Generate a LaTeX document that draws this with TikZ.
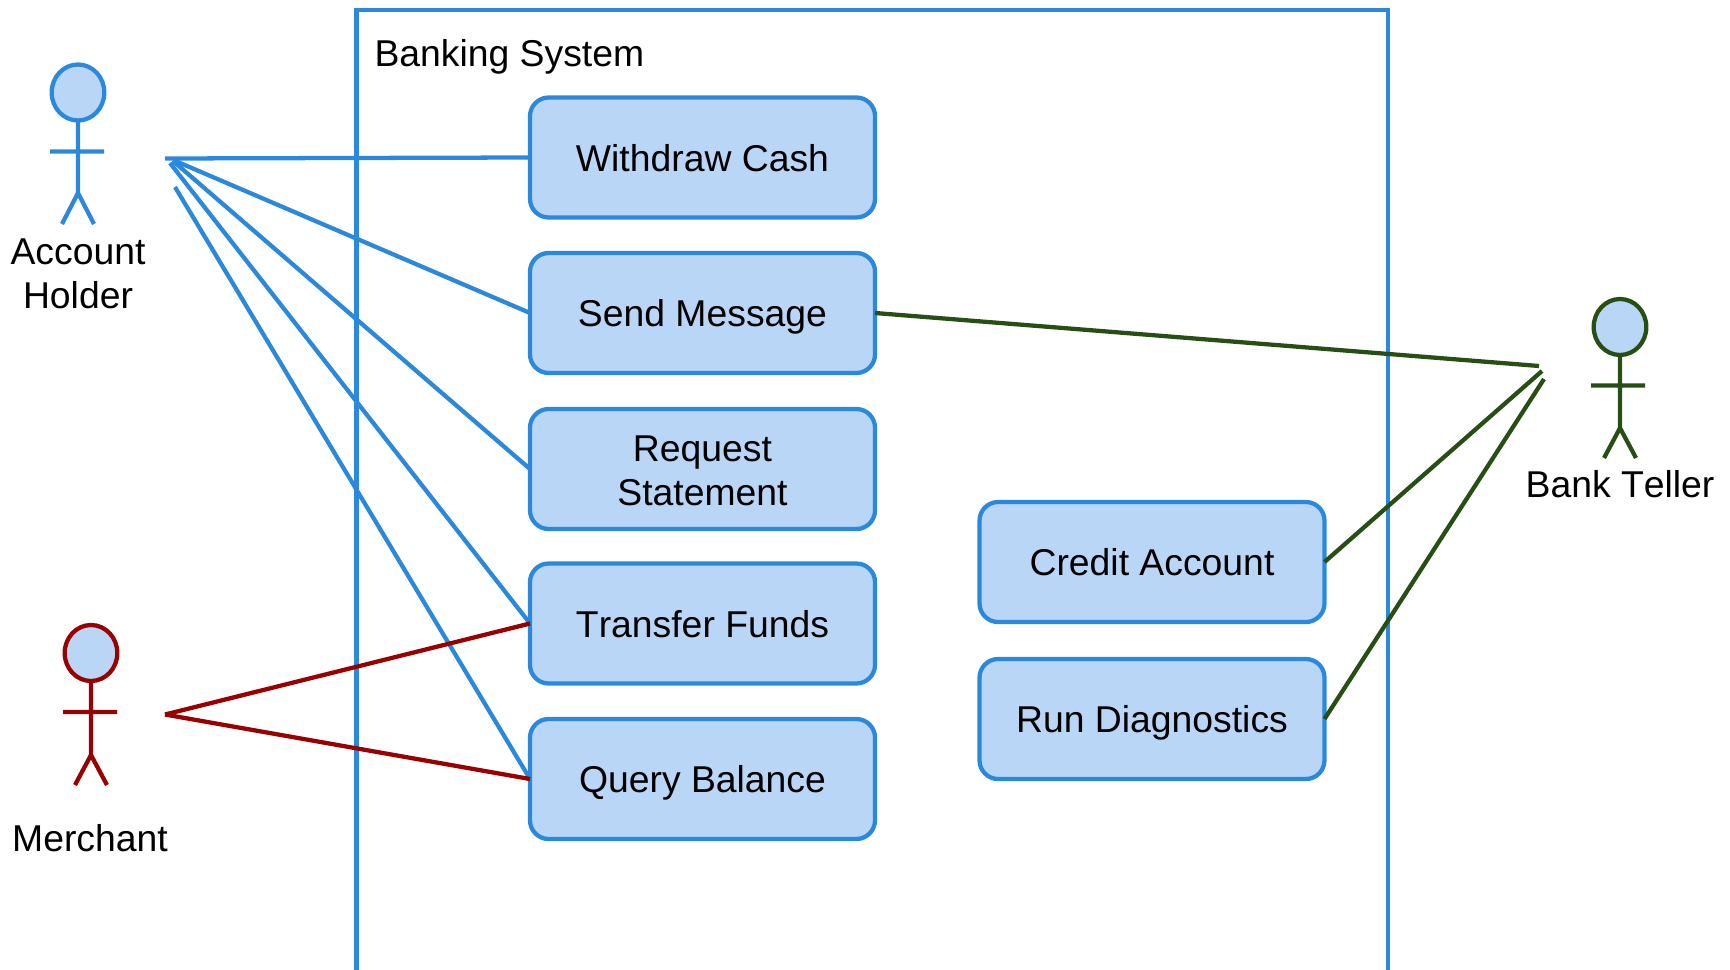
\documentclass[tikz,border=0pt]{standalone}
\usepackage{fontspec}
\setmainfont[Kerning=Off]{Liberation Sans}
\usetikzlibrary{shapes.geometric}
\definecolor{ubl}{HTML}{2A88DD}
\definecolor{ufill}{HTML}{BAD6F6}
\definecolor{ugr}{HTML}{274E13}
\definecolor{urd}{HTML}{990000}
\tikzset{
  usecase/.style={draw=ubl,fill=ufill,line width=3.2pt,rounded corners=14pt,minimum width=258.75pt,minimum height=90pt,inner sep=0pt,outer sep=0pt,align=center,text=black,font=\fontsize{28}{33}\selectfont},
  oneline/.style={text height=20.6pt,text depth=0pt},
  head/.style={ellipse,line width=3.2pt,fill=ufill,minimum width=39.5pt,minimum height=42pt,inner sep=0pt,outer sep=0pt},
  limb/.style={line width=3.2pt,line join=miter},
  lbl/.style={inner sep=0pt,outer sep=0pt,align=center,text=black,font=\fontsize{28}{33}\selectfont},
  conn/.style={line width=3.2pt}
}
\begin{document}
\begin{tikzpicture}[x=0.75pt,y=-0.75pt]
\useasboundingbox (0,0) rectangle (1730,970);
% system boundary
\coordinate (sysBL) at (356.5,970);
\coordinate (sysTL) at (356.5,10);
\coordinate (sysTR) at (1388,10);
\coordinate (sysBR) at (1388,970);
\draw[ubl,line width=3.2pt,line join=miter] (sysBL) -- (sysTL) -- (sysTR) -- (sysBR);
\node[lbl,anchor=base west] (systitle) at (374.5,67) {Banking System};
% use cases
\node[usecase,oneline] (withdraw) at (702.5,157.5) {Withdraw Cash};
\node[usecase,oneline] (send) at (702.5,313) {Send Message};
\node[usecase,text height=55pt] (request) at (702.5,469) {Request\\Statement};
\node[usecase,oneline] (transfer) at (702.5,623.5) {Transfer Funds};
\node[usecase,oneline] (query) at (702.5,779) {Query Balance};
\node[usecase,oneline] (credit) at (1152,562) {Credit Account};
\node[usecase,oneline] (run) at (1152,719) {Run Diagnostics};
% account holder
\node[head,draw=ubl] (ahHead) at (78,92.5) {};
\coordinate (ahHip) at (78,193);
\coordinate (ahArmL) at (50,151.5);
\coordinate (ahArmR) at (104,151.5);
\coordinate (ahLegL) at (62,224);
\coordinate (ahLegR) at (94,224);
\draw[limb,ubl] (ahHead.south) -- (ahHip) (ahArmL) -- (ahArmR) (ahLegL) -- (ahHip) -- (ahLegR);
\node[lbl] (ahLabel) at (78,274) {Account\\Holder};
% merchant
\node[head,draw=urd] (mHead) at (91,653) {};
\coordinate (mHip) at (91,755);
\coordinate (mArmL) at (63,712);
\coordinate (mArmR) at (117,712);
\coordinate (mLegL) at (75,785);
\coordinate (mLegR) at (107,785);
\draw[limb,urd] (mHead.south) -- (mHip) (mArmL) -- (mArmR) (mLegL) -- (mHip) -- (mLegR);
\node[lbl,anchor=base] (mLabel) at (90,851) {Merchant};
% bank teller
\node[head,draw=ugr] (tHead) at (1620,327) {};
\coordinate (tHip) at (1620,428);
\coordinate (tArmL) at (1591,385.5);
\coordinate (tArmR) at (1645,385.5);
\coordinate (tLegL) at (1604,458);
\coordinate (tLegR) at (1636,458);
\draw[limb,ugr] (tHead.south) -- (tHip) (tArmL) -- (tArmR) (tLegL) -- (tHip) -- (tLegR);
\node[lbl,anchor=base] (tLabel) at (1620,497) {Bank Teller};
% connector free ends
\coordinate (ah1) at (165,158.5);
\coordinate (ah2) at (173,160);
\coordinate (ah3) at (173,161);
\coordinate (ah4) at (170,163);
\coordinate (ah5) at (175,187);
\coordinate (m1) at (165,714.5);
\coordinate (t1) at (1539,366);
\coordinate (t2) at (1542,371);
\coordinate (t3) at (1544,379);
% connectors
\draw[conn,ubl] (ah1) -- (withdraw.west);
\draw[conn,ubl] (ah2) -- (send.west);
\draw[conn,ubl] (ah3) -- (request.west);
\draw[conn,ubl] (ah4) -- (transfer.west);
\draw[conn,ubl] (ah5) -- (query.west);
\draw[conn,urd] (m1) -- (transfer.west);
\draw[conn,urd] (m1) -- (query.west);
\draw[conn,ugr] (send.east) -- (t1);
\draw[conn,ugr] (credit.east) -- (t2);
\draw[conn,ugr] (run.east) -- (t3);
\end{tikzpicture}
\end{document}
